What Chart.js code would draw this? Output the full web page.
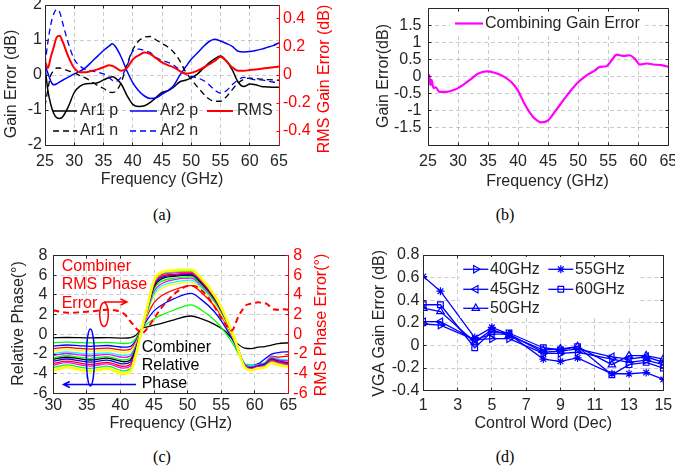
<!DOCTYPE html>
<html>
<head>
<meta charset="utf-8">
<script src="https://cdn.jsdelivr.net/npm/chart.js@4.4.1/dist/chart.umd.min.js"></script>
<style>
  html, body { margin:0; padding:0; background:#ffffff; }
  body { position:relative; width:675px; height:473px; overflow:hidden; }
  canvas { position:absolute; }
  .cap { position:absolute; font-family:'Liberation Serif','Times New Roman',serif; font-size:16px; color:#000; transform:translate(-50%,-50%); white-space:nowrap; }
</style>
</head>
<body>
<canvas id="ca" width="340" height="200" style="left:0px;top:0px;width:340px;height:200px"></canvas>
<canvas id="cb" width="335" height="200" style="left:340px;top:0px;width:335px;height:200px"></canvas>
<canvas id="cc" width="340" height="200" style="left:0px;top:240px;width:340px;height:200px"></canvas>
<canvas id="cd" width="335" height="200" style="left:340px;top:240px;width:335px;height:200px"></canvas>
<div class="cap" style="left:162px;top:215px">(a)</div>
<div class="cap" style="left:505px;top:215px">(b)</div>
<div class="cap" style="left:162px;top:457px">(c)</div>
<div class="cap" style="left:505px;top:457px">(d)</div>
<script>
// ================= DATA =================
// (a) gain error of array outputs
const FREQ_A = [25,25.5,26,26.5,27,27.5,28,29,30,31,32,33,34,35,36,36.5,37,38,39,40,41,42,43,44,45,46,47,48,49,50,51,52,53,54,55,56,57,58,59,60,61,62,63,64,65];
const AR1_P = [0.25,-0.45,-0.85,-1.1,-1.22,-1.24,-1.2,-0.9,-0.5,-0.32,-0.25,-0.24,-0.22,-0.14,-0.07,-0.05,-0.08,-0.25,-0.58,-0.84,-0.9,-0.88,-0.78,-0.64,-0.5,-0.45,-0.35,-0.2,-0.15,-0.08,0.02,0.18,0.34,0.46,0.54,0.4,0.15,-0.2,-0.33,-0.26,-0.28,-0.33,-0.34,-0.35,-0.35];
const AR1_N = [-0.9,-0.4,0.0,0.12,0.2,0.2,0.17,0.12,0.06,-0.02,-0.09,-0.2,-0.3,-0.38,-0.49,-0.5,-0.48,-0.22,0.29,0.72,0.97,1.08,1.1,1.0,0.9,0.8,0.65,0.42,0.1,-0.12,-0.33,-0.52,-0.68,-0.75,-0.75,-0.62,-0.42,-0.23,-0.12,-0.09,-0.1,-0.12,-0.13,-0.14,-0.15];
const AR2_P = [0.28,0.05,-0.18,-0.28,-0.25,-0.2,-0.15,-0.06,0.03,0.11,0.22,0.38,0.54,0.7,0.83,0.89,0.82,0.52,0.12,-0.22,-0.45,-0.6,-0.67,-0.65,-0.55,-0.45,-0.3,-0.02,0.22,0.45,0.62,0.8,0.95,1.02,0.97,0.9,0.82,0.68,0.66,0.67,0.7,0.74,0.79,0.84,0.92];
const AR2_N = [0.3,0.95,1.45,1.75,1.87,1.8,1.5,0.9,0.45,0.25,0.15,0.12,0.08,0.03,-0.08,-0.15,-0.19,-0.07,0.25,0.68,0.74,0.7,0.64,0.5,0.42,0.36,0.28,0.15,0.03,-0.04,-0.08,-0.15,-0.27,-0.43,-0.52,-0.45,-0.28,-0.14,-0.07,-0.1,-0.14,-0.14,-0.17,-0.2,-0.24];
const RMS_A = [0.1,0.05,0.13,0.2,0.27,0.28,0.24,0.13,0.05,0.02,0.02,0.03,0.04,0.055,0.07,0.065,0.055,0.03,0.05,0.11,0.14,0.16,0.15,0.12,0.09,0.07,0.055,0.03,0.01,0.015,0.03,0.05,0.075,0.1,0.13,0.1,0.055,0.03,0.03,0.035,0.04,0.045,0.05,0.055,0.06];
const XT_A = [25,30,35,40,45,50,55,60,65];
const YT_A = [-2,-1,0,1,2];
const YT_A2 = [-0.4,-0.2,0,0.2,0.4];

// (b) combining gain error
const FREQ_B = [25,25.2,25.4,25.6,25.9,26.3,26.9,28.1,29.4,30.8,32.2,33.3,34.7,36.1,37.5,38.9,40,41.1,42.5,43.9,45,46.4,48.1,49.7,51.4,52.8,53.6,54.7,55.6,56.4,57.5,58.6,59.4,60.3,61.4,62.5,63.9,65];
const GAIN_B = [-0.2,0.05,-0.25,-0.1,-0.33,-0.32,-0.45,-0.45,-0.39,-0.25,-0.07,0.08,0.15,0.11,0.01,-0.17,-0.42,-0.81,-1.18,-1.34,-1.28,-0.96,-0.56,-0.22,0.03,0.18,0.28,0.3,0.48,0.64,0.6,0.62,0.52,0.35,0.38,0.35,0.33,0.28];
const XT_B = [25,30,35,40,45,50,55,60,65];
const YT_B = [-1.5,-1,-0.5,0,0.5,1,1.5];

// (c) combiner relative phase (one array per gain state) and RMS phase error
const FREQ_C = [30,32,34,35.5,38,40.5,41.5,42.3,43.2,44,45,46,48,50.5,52,54,55.5,57,58.5,59.5,60.5,61.5,62.5,63.5,65];
const PH01 = [-0.35,-0.32,-0.34,-0.36,-0.33,-0.38,-0.33,-0.1,0.6,0.76,0.93,1.1,1.48,1.86,1.59,1.02,0.38,-0.69,-1.4,-1.45,-1.3,-1.25,-1.1,-0.95,-0.85];
const PH02 = [-0.85,-0.78,-0.84,-0.87,-0.81,-0.93,-0.87,-0.41,0.6,1.08,1.56,1.92,2.47,3.0,2.5,1.45,0.27,-1.22,-2.95,-3.1,-3.0,-2.9,-2.4,-2.6,-2.7];
const PH03 = [-1.18,-1.08,-1.16,-1.21,-1.13,-1.3,-1.21,-0.61,0.6,1.49,2.38,2.91,3.62,4.15,3.55,2.29,0.87,-0.92,-3.0,-3.2,-3.0,-2.5,-2.0,-1.85,-1.75];
const PH04 = [-1.45,-1.33,-1.43,-1.49,-1.39,-1.59,-1.49,-0.77,0.6,1.9,3.21,3.86,4.52,4.95,4.28,2.86,1.28,-0.73,-3.07,-3.3,-3.1,-2.9,-2.2,-2.3,-2.2];
const PH05 = [-1.68,-1.54,-1.66,-1.73,-1.61,-1.84,-1.73,-0.91,0.6,2.15,3.89,4.6,5.07,5.3,4.6,3.1,1.43,-0.68,-3.15,-3.4,-3.2,-3.0,-2.4,-2.6,-2.7];
const PH06 = [-1.95,-1.79,-1.92,-2.0,-1.87,-2.14,-2.0,-1.07,0.6,2.27,4.13,4.86,5.3,5.5,4.8,3.3,1.63,-0.48,-2.95,-3.2,-3.1,-2.9,-2.3,-2.5,-2.6];
const PH07 = [-2.12,-1.94,-2.09,-2.18,-2.03,-2.33,-2.18,-1.17,0.6,2.39,4.37,5.09,5.55,5.7,4.97,3.43,1.7,-0.49,-3.04,-3.3,-3.1,-3.0,-2.4,-2.6,-2.7];
const PH08 = [-2.36,-2.16,-2.33,-2.43,-2.26,-2.59,-2.43,-1.32,0.6,2.44,4.59,5.33,5.69,5.85,5.1,3.51,1.74,-0.51,-3.13,-3.4,-3.2,-3.1,-2.5,-2.7,-2.9];
const PH09 = [-2.53,-2.32,-2.49,-2.6,-2.42,-2.78,-2.6,-1.42,0.6,2.54,4.81,5.57,5.89,6.0,5.23,3.6,1.78,-0.53,-3.22,-3.5,-3.3,-3.2,-2.6,-2.8,-3.1];
const PH10 = [-2.73,-2.5,-2.69,-2.81,-2.62,-3.0,-2.81,-1.54,0.6,2.58,4.95,5.72,5.99,6.1,5.33,3.7,1.88,-0.43,-3.12,-3.4,-3.2,-3.0,-2.5,-2.7,-2.9];
const PH11 = [-2.96,-2.71,-2.92,-3.04,-2.84,-3.25,-3.04,-1.68,0.6,2.67,5.08,5.86,6.09,6.2,5.42,3.75,1.89,-0.46,-3.21,-3.5,-3.3,-3.2,-2.6,-2.8,-3.0];
const PH12 = [-3.13,-2.87,-3.09,-3.22,-3.0,-3.43,-3.22,-1.78,0.6,2.71,5.22,6.02,6.24,6.3,5.51,3.83,1.94,-0.43,-3.2,-3.5,-3.3,-3.2,-2.7,-2.9,-3.1];
const PH13 = [-3.37,-3.09,-3.32,-3.46,-3.23,-3.7,-3.46,-1.92,0.6,2.75,5.31,6.13,6.36,6.42,5.61,3.89,1.97,-0.46,-3.3,-3.6,-3.4,-3.3,-2.8,-3.0,-3.2];
const PH14 = [-3.64,-3.34,-3.59,-3.74,-3.49,-3.99,-3.74,-2.08,0.6,2.8,5.48,6.25,6.49,6.55,5.73,3.98,2.02,-0.45,-3.34,-3.65,-3.45,-3.35,-2.9,-3.1,-3.3];
const FREQ_C_RMS = [30,31,32,33,34,35,36,37,38,39,39.5,40,40.5,41,41.5,42,42.5,43.2,44,45,46,47,48,49,50,51,52,53,54,55,56,56.6,57.2,57.6,58,58.6,59.3,60,60.5,61,61.8,62.3,62.8,63.5,64.3,65];
const RMS_C = [2.45,2.3,2.2,2.2,2.25,2.3,2.35,2.45,2.5,2.45,2.4,2.25,2.1,1.75,1.3,0.9,0.5,0.1,0.6,1.6,2.6,3.4,4.1,4.6,4.9,4.9,4.5,3.8,2.8,1.7,0.7,0.4,1.2,1.9,2.3,2.9,3.1,3.2,3.25,3.2,3.1,2.8,2.55,2.5,2.55,2.5];
const XT_C = [30,35,40,45,50,55,60,65];
const YT_C = [-6,-4,-2,0,2,4,6,8];

// (d) VGA gain error vs control word
const CW = [1,2,4,5,6,8,9,10,12,13,14,15];
const G40 = [0.19,0.18,0.05,0.06,0.06,-0.07,-0.07,-0.06,-0.12,-0.15,-0.13,-0.17];
const G45 = [0.21,0.21,0.05,0.1,0.1,-0.06,-0.05,-0.03,-0.1,-0.12,-0.1,-0.15];
const G50 = [0.33,0.3,0.03,0.14,0.09,-0.04,-0.03,-0.01,-0.17,-0.09,-0.09,-0.12];
const G55 = [0.61,0.48,0.07,0.16,0.1,-0.12,-0.14,-0.11,-0.25,-0.25,-0.24,-0.3];
const G60 = [0.36,0.36,-0.02,0.12,0.11,-0.02,-0.04,-0.01,-0.26,-0.17,-0.15,-0.2];
const XT_D = [1,3,5,7,9,11,13,15];
const YT_D = [-0.4,-0.2,0,0.2,0.4,0.6,0.8];

// ================= HELPERS =================
const FONT = "'Liberation Sans', Arial, Helvetica, sans-serif";
const TXT = '#262626';
const pts = (xs, ys) => xs.map((x, i) => ({x: x, y: ys[i]}));

function xAxis(min, max, ticks, pad, h) {
  return {
    type: 'linear', position: 'bottom', min: min, max: max,
    grid: {display: false, drawTicks: false}, border: {display: false},
    ticks: {padding: pad, color: TXT, font: {family: FONT, size: 16}, autoSkip: false, maxRotation: 0, minRotation: 0, callback: v => String(v)},
    afterBuildTicks: s => { s.ticks = ticks.map(v => ({value: v})); },
    afterFit: s => { s.height = h; s.paddingLeft = 0; s.paddingRight = 0; s.paddingTop = 0; s.paddingBottom = 0; }
  };
}
function yAxis(pos, min, max, ticks, pad, w, color) {
  return {
    type: 'linear', position: pos, min: min, max: max,
    grid: {display: false, drawTicks: false}, border: {display: false},
    ticks: {padding: pad, color: color || TXT, font: {family: FONT, size: 16}, autoSkip: false, callback: v => String(v)},
    afterBuildTicks: s => { s.ticks = ticks.map(v => ({value: v})); },
    afterFit: s => { s.width = w; s.paddingLeft = 0; s.paddingRight = 0; s.paddingTop = 0; s.paddingBottom = 0; }
  };
}
function framePlugin(o) {
  return {
    id: 'frame',
    beforeDatasetsDraw(chart) {
      const ctx = chart.ctx, a = chart.chartArea;
      const xs = chart.scales.x, ys = chart.scales.y;
      ctx.save();
      ctx.strokeStyle = 'rgba(0,0,0,0.2)';
      ctx.lineWidth = 1;
      ctx.setLineDash([4, 3]);
      ctx.beginPath();
      for (const v of o.xg) {
        const p = Math.floor(xs.getPixelForValue(v)) + 0.5;
        if (p < a.left + 1 || p > a.right - 1) continue;
        ctx.moveTo(p, a.top); ctx.lineTo(p, a.bottom);
      }
      for (const v of o.yg) {
        const p = Math.floor(ys.getPixelForValue(v)) + 0.5;
        if (p < a.top + 1 || p > a.bottom - 1) continue;
        ctx.moveTo(a.left, p); ctx.lineTo(a.right, p);
      }
      ctx.stroke();
      ctx.restore();
    },
    afterDatasetsDraw(chart) {
      const ctx = chart.ctx, a = chart.chartArea;
      const xs = chart.scales.x, ys = chart.scales.y;
      const L = Math.floor(a.left) + 0.5, R = Math.floor(a.right) + 0.5;
      const T = Math.floor(a.top) + 0.5, B = Math.floor(a.bottom) + 0.5;
      const tl = 3;
      ctx.save();
      ctx.setLineDash([]);
      ctx.lineWidth = 1;
      ctx.strokeStyle = TXT;
      ctx.beginPath();
      for (const v of o.xg) {
        const p = Math.floor(xs.getPixelForValue(v)) + 0.5;
        ctx.moveTo(p, B); ctx.lineTo(p, B - tl);
        ctx.moveTo(p, T); ctx.lineTo(p, T + tl);
      }
      for (const v of o.yg) {
        const p = Math.floor(ys.getPixelForValue(v)) + 0.5;
        ctx.moveTo(L, p); ctx.lineTo(L + tl, p);
        if (!o.ry) { ctx.moveTo(R, p); ctx.lineTo(R - tl, p); }
      }
      ctx.moveTo(L, T); ctx.lineTo(R, T);
      ctx.moveTo(L, B); ctx.lineTo(R, B);
      ctx.moveTo(L, T); ctx.lineTo(L, B);
      if (!o.ry) { ctx.moveTo(R, T); ctx.lineTo(R, B); }
      ctx.stroke();
      if (o.ry) {
        const rs = chart.scales[o.ry];
        ctx.strokeStyle = o.rcolor;
        ctx.beginPath();
        for (const v of o.rticks) {
          const p = Math.floor(rs.getPixelForValue(v)) + 0.5;
          ctx.moveTo(R, p); ctx.lineTo(R - tl, p);
        }
        ctx.moveTo(R, T); ctx.lineTo(R, B);
        ctx.stroke();
      }
      ctx.restore();
    }
  };
}
function textPlugin(items) {
  return {
    id: 'txt',
    afterDraw(chart) {
      const ctx = chart.ctx;
      for (const it of items) {
        ctx.save();
        ctx.font = (it.size || 16) + 'px ' + FONT;
        ctx.fillStyle = it.color || TXT;
        ctx.textAlign = it.align || 'center';
        ctx.textBaseline = 'middle';
        ctx.translate(it.x, it.y);
        if (it.rot) ctx.rotate(it.rot * Math.PI / 180);
        ctx.fillText(it.t, 0, 0);
        ctx.restore();
      }
    }
  };
}
function legendPlugin(entries, box) {
  return {
    id: 'lgd',
    afterDatasetsDraw(chart) {
      const ctx = chart.ctx;
      ctx.save();
      if (box) { ctx.fillStyle = '#ffffff'; ctx.fillRect(box[0], box[1], box[2] - box[0], box[3] - box[1]); }
      for (const e of entries) {
        const ds = chart.data.datasets[e.ds];
        ctx.strokeStyle = ds.borderColor;
        ctx.lineWidth = ds.borderWidth;
        ctx.setLineDash(ds.borderDash || []);
        ctx.beginPath(); ctx.moveTo(e.x1, e.y); ctx.lineTo(e.x2, e.y); ctx.stroke();
        ctx.setLineDash([]);
        if (ds.pointRadius > 0 && Chart.helpers && Chart.helpers.drawPoint) {
          ctx.strokeStyle = ds.pointBorderColor;
          ctx.fillStyle = 'rgba(0,0,0,0)';
          ctx.lineWidth = ds.pointBorderWidth;
          Chart.helpers.drawPoint(ctx, {pointStyle: ds.pointStyle, rotation: ds.pointRotation || 0, radius: ds.pointRadius, borderWidth: ds.pointBorderWidth}, (e.x1 + e.x2) / 2, e.y);
        }
        ctx.font = '16px ' + FONT;
        ctx.fillStyle = TXT;
        ctx.textAlign = 'left';
        ctx.textBaseline = 'middle';
        ctx.fillText(ds.label, e.tx, e.y);
      }
      ctx.restore();
    }
  };
}
function arrow(ctx, x1, y1, x2, y2) {
  const ang = Math.atan2(y2 - y1, x2 - x1), hl = 7, ha = 0.45;
  ctx.beginPath();
  ctx.moveTo(x1, y1); ctx.lineTo(x2, y2);
  ctx.moveTo(x2 - hl * Math.cos(ang - ha), y2 - hl * Math.sin(ang - ha));
  ctx.lineTo(x2, y2);
  ctx.lineTo(x2 - hl * Math.cos(ang + ha), y2 - hl * Math.sin(ang + ha));
  ctx.stroke();
}
const annoPluginC = {
  id: 'anno',
  afterDraw(chart) {
    const ctx = chart.ctx;
    ctx.save();
    ctx.lineWidth = 1.5;
    ctx.strokeStyle = '#FF0000';
    ctx.beginPath(); ctx.ellipse(104, 74.5, 4.3, 12, 0, 0, 2 * Math.PI); ctx.stroke();
    arrow(ctx, 104, 62, 127, 62);
    ctx.strokeStyle = '#0000FF';
    ctx.beginPath(); ctx.ellipse(90.4, 117.5, 4, 28.5, 0, 0, 2 * Math.PI); ctx.stroke();
    arrow(ctx, 136, 144.5, 63.5, 144.5);
    ctx.restore();
  }
};
const baseOpts = (padTop, padRight) => ({
  responsive: false, animation: false, events: [],
  layout: {padding: {top: padTop, right: padRight, left: 0, bottom: 0}},
  plugins: {legend: {display: false}, tooltip: {enabled: false}},
  elements: {point: {radius: 0}}
});
const line = (label, xs, ys, color, width, dash, yid, order) => ({
  label: label, data: pts(xs, ys), borderColor: color, borderWidth: width,
  borderDash: dash || [], pointRadius: 0, fill: false, yAxisID: yid || 'y',
  cubicInterpolationMode: 'monotone', order: order || 0
});

// ================= (a) =================
{
  const o = baseOpts(5, 0);
  o.scales = {
    x: xAxis(25, 65, XT_A, 7.4, 55),
    y: yAxis('left', -2, 2, YT_A, 3, 45),
    y2: yAxis('right', -0.5, 0.5, YT_A2, 4, 61, '#FF0000')
  };
  new Chart(document.getElementById('ca'), {
    type: 'line',
    data: {datasets: [
      line('Ar1 p', FREQ_A, AR1_P, '#000000', 1.5, null, 'y', 5),
      line('Ar2 p', FREQ_A, AR2_P, '#0000FF', 1.5, null, 'y', 4),
      line('RMS', FREQ_A, RMS_A, '#FF0000', 2, null, 'y2', 1),
      line('Ar1 n', FREQ_A, AR1_N, '#000000', 1.3, [6, 4], 'y', 3),
      line('Ar2 n', FREQ_A, AR2_N, '#0000FF', 1.3, [6, 4], 'y', 2)
    ]},
    options: o,
    plugins: [
      framePlugin({xg: XT_A, yg: YT_A, ry: 'y2', rticks: YT_A2, rcolor: '#FF0000'}),
      legendPlugin([
        {ds: 0, x1: 53, x2: 77, tx: 80, y: 111},
        {ds: 1, x1: 130, x2: 157, tx: 160, y: 111},
        {ds: 2, x1: 207, x2: 233, tx: 237, y: 111},
        {ds: 3, x1: 53, x2: 77, tx: 80, y: 131},
        {ds: 4, x1: 130, x2: 157, tx: 160, y: 131}
      ]),
      textPlugin([
        {t: 'Gain Error (dB)', x: 12, y: 84, rot: -90},
        {t: 'RMS Gain Error (dB)', x: 325, y: 79, rot: -90, color: '#FF0000'},
        {t: 'Frequency (GHz)', x: 162, y: 180}
      ])
    ]
  });
}

// ================= (b) =================
{
  const o = baseOpts(8, 6.7);
  o.scales = {
    x: xAxis(25, 65, XT_B, 7.4, 55),
    y: yAxis('left', -2, 2, YT_B, 6.5, 88)
  };
  new Chart(document.getElementById('cb'), {
    type: 'line',
    data: {datasets: [
      line('Combining Gain Error', FREQ_B, GAIN_B, '#FF00FF', 2.2, null, 'y', 0)
    ]},
    options: o,
    plugins: [
      framePlugin({xg: XT_B, yg: YT_B}),
      legendPlugin([{ds: 0, x1: 115, x2: 143, tx: 145, y: 23.5}], [110, 14, 305, 33]),
      textPlugin([
        {t: 'Gain Error(dB)', x: 43.3, y: 76, rot: -90},
        {t: 'Frequency (GHz)', x: 207.5, y: 181.7}
      ])
    ]
  });
}

// ================= (c) =================
{
  const o = baseOpts(15.5, 0);
  o.scales = {
    x: xAxis(30, 65, XT_C, 2.6, 46.5),
    y: yAxis('left', -6, 8, YT_C, 6, 53.3),
    y2: yAxis('right', -6, 8, YT_C, 5, 51.7, '#FF0000')
  };
  const series = [PH01, PH02, PH03, PH04, PH05, PH06, PH07, PH08, PH09, PH10, PH11, PH12, PH13, PH14];
  const colors = ['#000000', '#00FF00', '#0000FF', '#FF0000', '#FFFF00', '#00FFFF', '#FF00FF', '#00FF00', '#000000', '#0000FF', '#FF0000', '#FF00FF', '#00FF00', '#FFFF00'];
  const ds = series.map((s, i) => line('Phase ' + (i + 1), FREQ_C, s, colors[i], i === 13 ? 2.6 : 1.3, null, 'y', 20 - i));
  ds.push(line('RMS Phase Error', FREQ_C_RMS, RMS_C, '#FF0000', 2, [6, 4], 'y2', 0));
  new Chart(document.getElementById('cc'), {
    type: 'line',
    data: {datasets: ds},
    options: o,
    plugins: [
      framePlugin({xg: XT_C, yg: YT_C, ry: 'y2', rticks: YT_C, rcolor: '#FF0000'}),
      annoPluginC,
      textPlugin([
        {t: 'Relative Phase(°)', x: 18.3, y: 83.5, rot: -90},
        {t: 'RMS Phase Error(°)', x: 321.5, y: 85, rot: -90, color: '#FF0000'},
        {t: 'Frequency (GHz)', x: 170.8, y: 183.3},
        {t: 'Combiner', x: 61.7, y: 26.7, align: 'left', color: '#FF0000'},
        {t: 'RMS Phase', x: 61.7, y: 44.3, align: 'left', color: '#FF0000'},
        {t: 'Error', x: 61.7, y: 63.3, align: 'left', color: '#FF0000'},
        {t: 'Combiner', x: 141.7, y: 107.3, align: 'left', color: '#000000'},
        {t: 'Relative', x: 141.7, y: 126, align: 'left', color: '#000000'},
        {t: 'Phase', x: 141.7, y: 144, align: 'left', color: '#000000'}
      ])
    ]
  });
}

// ================= (d) =================
{
  const o = baseOpts(15, 11.7);
  o.scales = {
    x: xAxis(1, 15, XT_D, 5.4, 49.3),
    y: yAxis('left', -0.4, 0.8, YT_D, 4, 83.3)
  };
  const mk = (label, ys, style, rot, r, order) => ({
    label: label, data: pts(CW, ys), borderColor: '#0000FF', borderWidth: 1.3, tension: 0,
    pointStyle: style, pointRotation: rot, pointRadius: r, pointBorderColor: '#0000FF',
    pointBackgroundColor: 'rgba(0,0,0,0)', pointBorderWidth: 1.2, fill: false, order: order
  });
  new Chart(document.getElementById('cd'), {
    type: 'line',
    data: {datasets: [
      mk('40GHz', G40, 'triangle', 90, 4.3, 5),
      mk('45GHz', G45, 'triangle', -90, 4.3, 4),
      mk('50GHz', G50, 'triangle', 0, 4.3, 3),
      mk('55GHz', G55, 'star', 0, 4, 2),
      mk('60GHz', G60, 'rect', 0, 4, 1)
    ]},
    options: o,
    plugins: [
      framePlugin({xg: XT_D, yg: YT_D}),
      legendPlugin([
        {ds: 0, x1: 123.3, x2: 148.3, tx: 150, y: 29.3},
        {ds: 1, x1: 123.3, x2: 148.3, tx: 150, y: 49.3},
        {ds: 2, x1: 123.3, x2: 148.3, tx: 150, y: 68.3},
        {ds: 3, x1: 208.3, x2: 233.3, tx: 235, y: 29.3},
        {ds: 4, x1: 208.3, x2: 233.3, tx: 235, y: 49.3}
      ], [120, 17, 300, 78]),
      textPlugin([
        {t: 'VGA Gain Error (dB)', x: 40, y: 83.3, rot: -90},
        {t: 'Control Word (Dec)', x: 203.3, y: 183.3}
      ])
    ]
  });
}
</script>
</body>
</html>
